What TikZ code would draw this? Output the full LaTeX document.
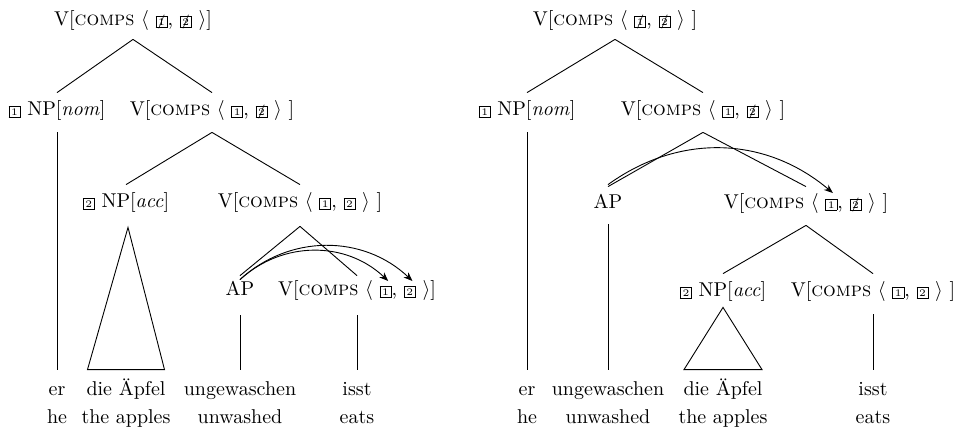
\documentclass[tikz,border=0pt]{standalone}
\usetikzlibrary{arrows.meta,calc}
\newcommand{\bx}[1]{{\setlength{\fboxsep}{0.9pt}\setlength{\fboxrule}{0.4pt}\fbox{\tiny #1}}}
\newcommand{\sbx}[1]{\ooalign{\bx{#1}\cr\hidewidth{\scriptsize/}\hidewidth\cr}}
\newcommand{\Vpre}{V[\textsc{comps} $\langle$\ }
\newlength\wa \newlength\wb \newlength\bw
\begin{document}
\settowidth\wa{\Vpre}%
\settowidth\wb{\Vpre\bx{1}, }%
\settowidth\bw{\bx{1}}%
\begin{tikzpicture}[x=0.5pt,y=-0.5pt,
  lab/.style={inner sep=0pt, anchor=base, text height=7pt, text depth=2pt},
  edge/.style={line width=0.45pt},
  arr/.style={-{Stealth[length=4.5pt,width=3.5pt]}, line width=0.45pt}]
\useasboundingbox (0,0) rectangle (958,429);
% ---------------- left tree ----------------
\node[lab] (L0) at (133,25) {\Vpre\sbx{1}, \sbx{2}\ $\rangle$]};
\node[lab] (L1a) at (57,115) {\bx{1} NP[\textit{nom}]};
\node[lab] (L1b) at (212,115) {\Vpre\bx{1}, \sbx{2}\ $\rangle$ ]};
\node[lab] (L2a) at (126,207) {\bx{2} NP[\textit{acc}]};
\node[lab] (L2b) at (300,207) {\Vpre\bx{1}, \bx{2}\ $\rangle$ ]};
\node[lab] (L3a) at (240,295) {AP};
\node[lab] (L3b) at (357,295) {\Vpre\bx{1}, \bx{2}\ $\rangle$]};
\node[lab] (Lw1) at (57,395) {er};
\node[lab] (Lw2) at (126,395) {die Äpfel};
\node[lab] (Lw3) at (240,395) {ungewaschen};
\node[lab] (Lw4) at (357,395) {isst};
\node[lab] (Lg1) at (57,423) {he};
\node[lab] (Lg2) at (126,423) {the apples};
\node[lab] (Lg3) at (240,423) {unwashed};
\node[lab] (Lg4) at (357,423) {eats};
\draw[edge] ([yshift=-5pt]L0.south) -- ([yshift=4pt]L1a.north);
\draw[edge] ([yshift=-5pt]L0.south) -- ([yshift=4pt]L1b.north);
\draw[edge] ([yshift=-6.5pt]L1b.south) -- ([yshift=4pt]L2a.north);
\draw[edge] ([yshift=-6.5pt]L1b.south) -- ([yshift=4pt]L2b.north);
\draw[edge] ([yshift=-7.5pt]L2b.south) -- ([yshift=2.5pt]L3a.north);
\draw[edge] ([yshift=-7.5pt]L2b.south) -- ([yshift=2.5pt]L3b.north);
\draw[edge] ([yshift=-6.5pt]L1a.south) -- ([yshift=5.5pt]Lw1.north);
\draw[edge] ([yshift=-8pt]L3a.south) -- ([yshift=5.5pt]Lw3.north);
\draw[edge] ([yshift=-8pt]L3b.south) -- ([yshift=5.5pt]Lw4.north);
\draw[edge] ([xshift=1pt,yshift=-8pt]L2a.south) -- ([xshift=-19.25pt,yshift=5.5pt]Lw2.north)
  -- ([xshift=19.25pt,yshift=5.5pt]Lw2.north) -- cycle;
\draw[arr] ([yshift=0.5pt]L3a.north) to[bend left=43]
  ([xshift=\wa+0.5*\bw+1.5pt,yshift=7pt]L3b.base west);
\draw[arr] ([yshift=0.5pt]L3a.north) to[bend left=43]
  ([xshift=\wb+0.5*\bw+1.5pt,yshift=7pt]L3b.base west);
% ---------------- right tree ----------------
\node[lab] (R0) at (615,25) {\Vpre\sbx{1}, \sbx{2}\ $\rangle$ ]};
\node[lab] (R1a) at (527,115) {\bx{1} NP[\textit{nom}]};
\node[lab] (R1b) at (703,115) {\Vpre\bx{1}, \sbx{2}\ $\rangle$ ]};
\node[lab] (R2a) at (608,208) {AP};
\node[lab] (R2b) at (806,208) {\Vpre\bx{1}, \sbx{2}\ $\rangle$ ]};
\node[lab] (R3a) at (723,296) {\bx{2} NP[\textit{acc}]};
\node[lab] (R3b) at (873,296) {\Vpre\bx{1}, \bx{2}\ $\rangle$ ]};
\node[lab] (Rw1) at (527,395) {er};
\node[lab] (Rw2) at (608,395) {ungewaschen};
\node[lab] (Rw3) at (723,395) {die Äpfel};
\node[lab] (Rw4) at (873,395) {isst};
\node[lab] (Rg1) at (527,423) {he};
\node[lab] (Rg2) at (608,423) {unwashed};
\node[lab] (Rg3) at (723,423) {the apples};
\node[lab] (Rg4) at (873,423) {eats};
\draw[edge] ([yshift=-5pt]R0.south) -- ([yshift=4pt]R1a.north);
\draw[edge] ([yshift=-5pt]R0.south) -- ([yshift=4pt]R1b.north);
\draw[edge] ([yshift=-6.5pt]R1b.south) -- ([yshift=3.5pt]R2a.north);
\draw[edge] ([yshift=-6.5pt]R1b.south) -- ([yshift=3.5pt]R2b.north);
\draw[edge] ([yshift=-6.5pt]R2b.south) -- ([yshift=4pt]R3a.north);
\draw[edge] ([yshift=-6.5pt]R2b.south) -- ([yshift=4pt]R3b.north);
\draw[edge] ([yshift=-6.5pt]R1a.south) -- ([yshift=5.5pt]Rw1.north);
\draw[edge] ([yshift=-6pt]R2a.south) -- ([yshift=5.5pt]Rw2.north);
\draw[edge] ([yshift=-7pt]R3b.south) -- ([yshift=5.5pt]Rw4.north);
\draw[edge] ([yshift=-3.5pt]R3a.south) -- ([xshift=-19.5pt,yshift=5.5pt]Rw3.north)
  -- ([xshift=19.5pt,yshift=5.5pt]Rw3.north) -- cycle;
\draw[arr] ([yshift=4.5pt]R2a.north) to[bend left=38]
  ([xshift=\wa+0.5*\bw+1pt,yshift=7.5pt]R2b.base west);
\end{tikzpicture}
\end{document}
